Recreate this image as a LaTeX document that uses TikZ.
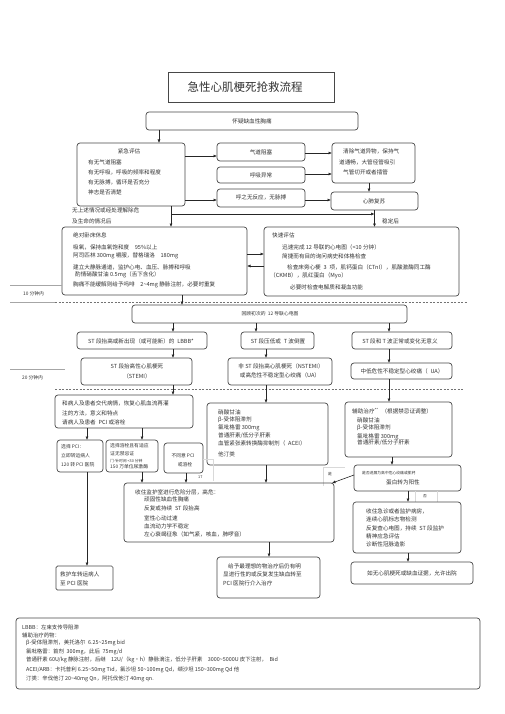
\documentclass[tikz,border=0pt]{standalone}
\usepackage{fontspec}
\setmainfont{Noto Sans CJK SC}
\usetikzlibrary{arrows.meta}
\newcounter{tc}
\newcommand{\mytx}[3][]{\stepcounter{tc}\node[txt,#1] (t\arabic{tc}) at (#2) {#3};}
\newcommand{\mybx}[6][]{\node[box,minimum width={(#5-#3)*1pt},minimum height={(#6-#4)*1pt},#1] (#2) at (#3,#4) {};}
\begin{document}
\begin{tikzpicture}[x=1pt,y=-1pt,
 box/.style={draw=black!72,line width=0.7pt,rounded corners=3pt,inner sep=0pt,outer sep=0pt,anchor=north west},
 txt/.style={anchor=west,inner sep=0pt,text=black!80,font=\fontsize{5.6}{6}\selectfont},
 ctr/.style={anchor=center},
 sm/.style={font=\fontsize{4.8}{5}\selectfont},
 fnf/.style={font=\fontsize{5.4}{6}\selectfont},
 tinyf/.style={font=\fontsize{3.8}{4}\selectfont},
 arr/.style={draw=black!85,line width=0.6pt,-{Latex[length=3.5pt,width=3pt]}},
 faint/.style={draw=black!15,line width=0.4pt,rounded corners=0pt},
 dsh/.style={draw=black!55,line width=0.5pt,dash pattern=on 2pt off 1.5pt},
 sep/.style={draw=black!35,line width=0.4pt},
]
\useasboundingbox[fill=white] (0,0) rectangle (505,714);

% title
\mybx[rounded corners=0pt]{title}{168}{72}{334}{102}
\mytx[ctr,font=\fontsize{11.5}{12}\selectfont]{245,87}{急性心肌梗死抢救流程}

% top
\mybx{hx}{146}{112}{358}{130}
\mytx[ctr]{252,121}{怀疑缺血性胸痛}

\mybx{jj}{77}{143}{185}{206}
\mytx[ctr]{129,151}{紧急评估}
\mytx{88,162}{有无气道阻塞}
\mytx{88,172}{有无呼吸，呼吸的频率和程度}
\mytx{88,182}{有无脉搏，循环是否充分}
\mytx{88,192}{神志是否清楚}

\mybx{qd}{217}{143}{305}{161}
\mytx[ctr]{261,152}{气道阻塞}
\mybx{hxyc}{217}{167}{305}{183}
\mytx[ctr]{261,175}{呼吸异常}
\mybx{hzw}{217}{189}{305}{207}
\mytx[ctr]{261,197}{呼之无反应，无脉搏}

\mybx{qc}{332}{143}{415}{183}
\mytx{343,151}{清除气道异物，保持气}
\mytx{339,162}{道通畅，大管径管吸引}
\mytx{343,172}{气管切开或者插管}
\mybx{xf}{331}{192}{418}{210}
\mytx[ctr]{374,201}{心肺复苏}

\draw[arr] (hx.south -| 159,0) -- (jj.north -| 159,0);
\draw[arr] (jj.east |- 0,156) -- (qd.west |- 0,156);
\draw[arr] (jj.east |- 0,200) -- (hzw.west |- 0,200);
\draw[arr] (qd.east |- 0,153) -- (qc.west |- 0,153);
\draw[arr] (hxyc.east |- 0,174) -- (qc.west |- 0,174);
\draw[arr] (hzw.east |- 0,200) -- (xf.west |- 0,200);
\draw[arr] (qc.south -| 369,0) -- (xf.north -| 369,0);

\mytx{72,210}{无上述情况或经处理解除危}
\mytx{72,221}{及生命的情况后}
\mytx{382,221}{稳定后}

% second row
\mybx{jw}{62}{227}{247}{295}
\mytx{73,235}{绝对卧床休息}
\mytx{73,247}{吸氧，保持血氧饱和度\quad 95\%以上}
\mytx{73,256}{阿司匹林 300mg 嚼服，替格瑞洛\quad 180mg}
\mytx{73,267}{建立大静脉通道，监护心电、血压、脉搏和呼吸}
\mytx{75,275}{酌情硝酸甘油 0.5mg（舌下含化）}
\mytx{73,285}{胸痛不能缓解则给予吗啡\quad 2\textasciitilde4mg 静脉注射，必要时重复}

\mybx{ks}{264}{227}{459}{296}
\mytx{272,235}{快速评估}
\mytx{282,247}{迅速完成 12 导联的心电图（<10 分钟）}
\mytx{282,256}{简捷而有目的询问病史和体格检查}
\mytx{287,267}{检查床旁心梗\enspace 3\enspace 项，肌钙蛋白（CTnI），肌酸激酶同工酶}
\mytx{270,276}{（CKMB），肌红蛋白（Myo）}
\mytx{290,287}{必要时检查电解质和凝血功能}

\draw[arr] (jj.south -| 171,0) -- (jw.north -| 171,0);
\coordinate (m1) at (171,214);
\draw[arr] (m1) -- (xf.south |- m1);
\draw[arr] (xf.south) -- (ks.north -| xf.south);
\draw[arr] (jw.east |- 0,254) -- (ks.west |- 0,254);
\draw[arr] (ks.west |- 0,266) -- (jw.east |- 0,266);

% 10 min
\draw[sep] (10,285) -- (62,285);
\mytx[sm]{23,294}{10 分钟内}
\draw[sep] (10,302) -- (55,302);
\draw[dsh] (55,302) -- (467,302);

% ECG
\mybx{ecg}{132}{305}{407}{323}
\mytx[ctr,sm]{270,314}{回顾初次的\enspace 12 导联心电图}
\draw[arr] (jw.south -| 182,0) -- (ecg.north -| 182,0);

\mybx{ba}{77}{332}{207}{349}
\mytx[ctr]{141,341}{ST 段抬高或新出现（或可能新）的\enspace LBBB*}
\mybx{bb}{241}{332}{314}{349}
\mytx[ctr]{278,341}{ST 段压低或\enspace T 波倒置}
\mybx{bc}{352}{332}{452}{349}
\mytx[ctr]{400,341}{ST 段和 T 波正常或变化无意义}
\draw[arr] (ecg.south -| 173,0) -- (ba.north -| 173,0);
\draw[arr] (ecg.south -| 256,0) -- (bb.north -| 256,0);
\draw[arr] (ecg.south -| 389,0) -- (bc.north -| 389,0);

\mybx{stemi}{81}{358}{192}{385}
\mytx[ctr]{137,366}{ST 段抬高性心肌梗死}
\mytx[ctr]{137,376}{（STEMI）}
\mybx{nstemi}{228}{358}{332}{385}
\mytx[ctr]{281,366}{非 ST 段抬高心肌梗死（NSTEMI）}
\mytx[ctr]{280,375}{或高危性不稳定型心绞痛（UA）}
\mybx{ua}{351}{363}{452}{379}
\mytx[ctr]{402,371}{中低危性不稳定型心绞痛（\enspace UA）}
\draw[arr] (ba.south -| 173,0) -- (stemi.north -| 173,0);
\draw[arr] (bb.south -| 266,0) -- (nstemi.north -| 266,0);
\draw[arr] (bc.south -| 389,0) -- (ua.north -| 389,0);

% 20 min
\draw[sep] (10,369) -- (65,369);
\mytx[sm]{22,378}{20 分钟内}
\draw[dsh] (55,389) -- (463,389);

% third level
\mybx{hb}{55}{395}{193}{428}
\mytx{62,403}{和病人及患者交代病情，恢复心肌血流再灌}
\mytx{62,413}{注的方法，意义和特点}
\mytx{62,422}{请病人及患者\enspace PCI 或溶栓}
\mybx{xs}{207}{403}{328}{465}
\mytx{218,412}{硝酸甘油}
\mytx{218,420}{β-受体阻滞剂}
\mytx{218,428}{氯吡格雷 300mg}
\mytx{218,436}{普通肝素/低分子肝素}
\mytx{218,443}{血管紧张素转换酶抑制剂（\enspace ACEI）}
\mytx{218,454}{他汀类}
\mybx{fz}{345}{402}{452}{457}
\mytx{352,411}{辅助治疗\textsuperscript{**}\enspace（根据禁忌证调整）}
\mytx{357,420}{硝酸甘油}
\mytx{357,428}{β-受体阻滞剂}
\mytx{357,437}{氯吡格雷 300mg}
\mytx{357,443}{普通肝素/低分子肝素}
\draw[arr] (stemi.south -| 173,0) -- (hb.north -| 173,0);
\draw[arr] (nstemi.south -| 266,0) -- (xs.north -| 266,0);
\draw[arr] (ua.south -| 389,0) -- (fz.north -| 389,0);

% small boxes
\mybx{p1}{57}{440}{103}{472}
\mytx[sm]{61,447}{选择 PCI：}
\mytx[sm]{61,456}{立即转运病人}
\mytx[sm]{61,465}{120 转 PCI 医院}
\mybx{p2}{106}{440}{158}{472}
\mytx[sm]{110,446}{选择溶栓且有适应}
\mytx[sm]{110,454}{证无禁忌证}
\mytx[tinyf]{110,461}{门-针时间 <30 分钟}
\mytx[sm]{110,467}{150 万单位尿激酶}
\mybx{p3}{164}{443}{203}{473}
\mytx[ctr,sm]{183,456}{不同意 PCI}
\mytx[ctr,sm]{185,465}{或溶栓}
\draw[faint] (203,459) -- (213,459) -- (213,481);
\mytx[tinyf]{198,477}{17}
\draw[arr] (hb.south -| 87,0) -- (p1.north -| 87,0);
\draw[arr] (hb.south -| 142,0) -- (p2.north -| 142,0);

% shi fou
\mybx{sf}{354}{465}{461}{491}
\mytx[tinyf]{362,473}{是否进展为高中危心绞痛或肌钙}
\mytx[ctr]{403,482}{蛋白转为阳性}
\draw[arr] (fz.south -| 392,0) -- (sf.north -| 392,0);
\draw[faint] (323,486) -- (323,467) -- (345,467);
\mytx[tinyf]{328,474}{是}
\draw[faint] (415,491) -- (415,502);
\draw[faint] (437,491) -- (437,502);
\mytx[tinyf]{423,496}{否}

% ICU
\mybx{icu}{124}{483}{334}{542}
\mytx{135,492}{收住监护室进行危险分层，高危：}
\mytx{144,499}{顽固性缺血性胸痛}
\mytx{144,508}{反复或持续\enspace ST 段抬高}
\mytx{144,518}{室性心动过速}
\mytx{144,526}{血流动力学不稳定}
\mytx{144,534}{左心衰竭征象（如气紧，咳血，肺啰音）}
\draw[arr] (p2.south -| 142,0) -- (icu.north -| 142,0);
\draw[arr] (p3.south -| 186,0) -- (icu.north -| 186,0);
\draw[arr] (xs.south -| 266,0) -- (icu.north -| 266,0);
\draw[arr] (sf.west |- 0,475) -- ([xshift=-2pt]icu.north east);

\mybx{jz}{353}{502}{461}{553}
\mytx{366,511}{收住急诊或者监护病房，}
\mytx{366,519}{连续心肌标志物检测}
\mytx{366,528}{反复查心电图，持续\enspace ST 段监护}
\mytx{366,536}{精神应急评估}
\mytx{366,544}{诊断性冠脉造影}
\draw[arr] (sf.south -| 408,0) -- (jz.north -| 408,0);

% bottom
\mybx{gy}{217}{557}{320}{598}
\mytx{228,566}{给予最理想的物治疗后仍有明}
\mytx{223,574}{显进行性的或反复发生缺血转至}
\mytx{223,583}{PCI 医院行介入治疗}
\draw[arr] (icu.south -| 269,0) -- (gy.north -| 269,0);

\mybx[rounded corners=1.5pt]{jhc}{56}{566}{113}{590}
\mytx{60,574}{救护车转运病人}
\mytx{60,583}{至 PCI 医院}
\draw[arr] (p1.south -| 87,0) -- (jhc.north -| 87,0);

\mybx{cy}{351}{562}{473}{584}
\mytx[ctr]{412,573}{如无心肌梗死或缺血证据，允许出院}
\draw[arr] (jz.south -| 408,0) -- (cy.north -| 408,0);

% footnote
\mybx{fn}{16}{618}{480}{689}
\mytx[fnf]{22,627}{LBBB：左束支传导阻滞}
\mytx[fnf]{22,635}{辅助治疗药物：}
\mytx[fnf]{26,643}{β-受体阻滞剂，美托洛尔\enspace 6.25\textasciitilde25mg bid}
\mytx[fnf]{26,652}{氯吡格雷：首剂\enspace 300mg，此后\enspace 75mg/d}
\mytx[fnf]{26,660}{普通肝素 60U/kg 静脉注射，后继\quad 12U/（kg·h）静脉滴注，低分子肝素\quad 3000\textasciitilde5000U 皮下注射，\enspace Bid}
\mytx[fnf]{26,670}{ACEI/ARB：卡托普利 6.25\textasciitilde50mg Tid，氯沙坦 50\textasciitilde100mg Qd，缬沙坦 150\textasciitilde300mg Qd 他}
\mytx[fnf]{26,679}{汀类：辛伐他汀 20\textasciitilde40mg Qn，阿托伐他汀 40mg qn.}
\end{tikzpicture}
\end{document}
